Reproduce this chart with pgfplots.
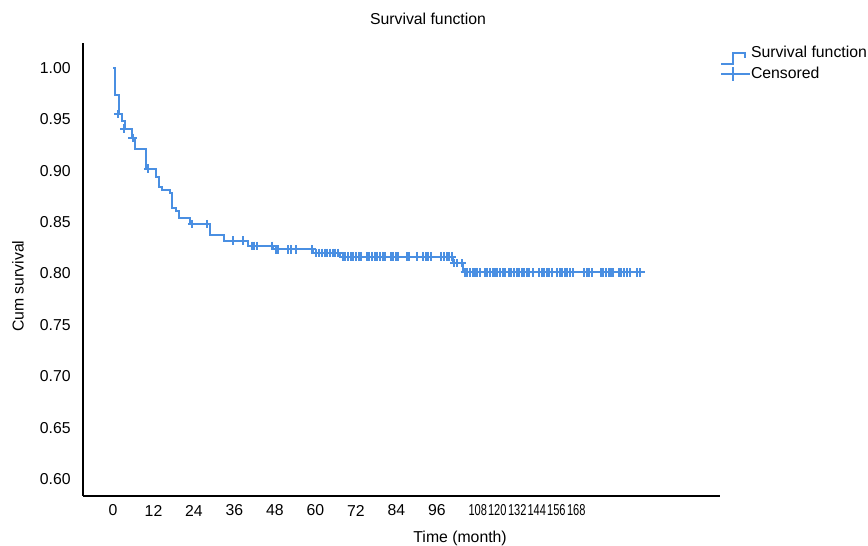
\documentclass[border=0pt]{standalone}
\usepackage{fontspec}
\setmainfont{Liberation Sans}
\usepackage{pgfplots}
\pgfplotsset{compat=1.18}
\definecolor{kmblue}{RGB}{74,143,226}
\newcommand{\cx}[1]{\scalebox{0.7}[1]{#1}}
\begin{document}
\fontsize{7.9}{9.5}\selectfont
\begin{tikzpicture}
\begin{axis}[
  name=ax, at={(0,0)}, anchor=south west,
  scale only axis, width=318.5pt, height=226.5pt,
  xmin=-8.9, xmax=179.9, ymin=0.5835, ymax=1.0243,
  axis x line*=bottom, axis y line*=left,
  axis line style={black, line width=0.7pt, -},
  tick style={draw=none}, major tick length=0pt,
  font=\fontsize{7.9}{9.5}\selectfont,
  xtick={0,12,24,36,48,60,72,84,96,108.1,113.9,119.8,125.6,131.4,137.3},
  xticklabels={0,12,24,36,48,60,72,84,96,\cx{108},\cx{120},\cx{132},\cx{144},\cx{156},\cx{168}},
  xticklabel style={anchor=center, inner sep=0pt, yshift=-7.25pt},
  ytick={0.60,0.65,0.70,0.75,0.80,0.85,0.90,0.95,1.00},
  yticklabel style={anchor=east, inner sep=0pt, xshift=-6pt,
    /pgf/number format/.cd, fixed, fixed zerofill, precision=2, assume math mode=true},
  title={Survival function},
  title style={at={(0.5416,1.0265)}, anchor=center, inner sep=0pt},
  xlabel={Time (month)},
  xlabel style={at={(0.592,-0.0927)}, anchor=center, inner sep=0pt},
  ylabel={Cum survival},
  ylabel style={at={(-0.102,0.463)}, anchor=center, inner sep=0pt},
  legend style={at={(1.0,0.9925)}, anchor=north west, draw=none, fill=none,
    inner sep=0pt, outer sep=0pt, row sep=0.6pt,
    nodes={inner sep=0pt, outer sep=0pt}, /tikz/column sep=0pt},
  legend cell align=left,
]
\addplot[kmblue, line width=1pt, const plot, mark=none,
  legend image code/.code={
    \draw[kmblue, line width=1pt] (0pt,-5.1pt) -- (5.8pt,-5.1pt) -- (5.8pt,0pt) -- (12pt,0pt) -- (12pt,-2.25pt);
    \path (14.5pt,0pt);}]
coordinates {
(0,1.0) (0.6,0.974) (1.7,0.955) (2.7,0.948) (3.6,0.941) (5.6,0.932) (6.5,0.921)
(9.7,0.902) (12.8,0.894) (13.6,0.884) (14.6,0.881) (16.9,0.878) (17.6,0.864)
(18.7,0.861) (19.6,0.854) (22.8,0.848) (28.7,0.837) (32.8,0.832) (40.1,0.827)
(47.3,0.8235) (59.3,0.820) (67.3,0.8165) (100.8,0.810) (103.8,0.801) (157.6,0.801)
};
\addlegendentry{Survival function}
\addplot[kmblue, only marks, mark=+, mark size=2.1pt, mark options={line width=1pt},
  legend image code/.code={
    \draw[kmblue, line width=1pt] (0pt,0pt) -- (14.5pt,0pt);
    \draw[kmblue, line width=1pt] (6.2pt,-3.5pt) -- (6.2pt,3.5pt);}]
coordinates {
(1.6,0.955) (3.4,0.941) (5.8,0.932) (10.4,0.902)
(23.4,0.848) (27.9,0.848)
(35.7,0.832) (38.4,0.832)
(41.1,0.827) (41.9,0.827) (42.8,0.827) (47.0,0.827)
(48.3,0.8235) (49.0,0.8235) (51.8,0.8235) (52.7,0.8235) (54.1,0.8235) (58.9,0.8235)
(60.3,0.820) (61.1,0.820) (61.9,0.820) (62.7,0.820) (63.5,0.820) (64.3,0.820) (65.1,0.820) (65.9,0.820) (66.7,0.820)
(68.1,0.8165) (68.8,0.8165) (69.6,0.8165) (70.4,0.8165) (71.2,0.8165) (72.0,0.8165) (72.8,0.8165) (73.6,0.8165)
(75.2,0.8165) (75.9,0.8165) (76.7,0.8165) (77.5,0.8165) (78.3,0.8165) (79.1,0.8165) (79.9,0.8165) (80.7,0.8165)
(82.3,0.8165) (83.1,0.8165) (83.9,0.8165) (84.6,0.8165) (87.0,0.8165) (87.8,0.8165) (90.2,0.8165)
(91.9,0.8165) (92.7,0.8165) (93.5,0.8165) (94.3,0.8165) (97.3,0.8165) (98.1,0.8165) (98.9,0.8165) (99.7,0.8165) (100.4,0.8165)
(101.2,0.810) (102.0,0.810) (103.3,0.810)
(104.3,0.801) (105.0,0.801) (105.8,0.801) (106.6,0.801) (107.3,0.801) (107.9,0.801) (108.7,0.801)
(110.2,0.801) (110.9,0.801) (111.7,0.801) (112.5,0.801) (113.2,0.801) (113.9,0.801) (114.7,0.801) (115.5,0.801) (116.1,0.801)
(117.4,0.801) (118.1,0.801) (118.8,0.801) (119.6,0.801) (120.4,0.801) (121.1,0.801) (121.8,0.801) (122.6,0.801) (123.2,0.801)
(124.4,0.801) (126.3,0.801) (127.0,0.801) (127.7,0.801) (128.5,0.801) (129.2,0.801) (130.0,0.801)
(131.6,0.801) (132.4,0.801) (133.2,0.801) (133.9,0.801) (134.6,0.801) (135.4,0.801) (136.2,0.801)
(139.6,0.801) (140.4,0.801) (141.1,0.801) (141.9,0.801)
(144.5,0.801) (145.3,0.801) (146.1,0.801) (146.9,0.801) (147.6,0.801) (148.2,0.801)
(150.0,0.801) (150.7,0.801) (151.4,0.801) (152.2,0.801) (153.2,0.801) (155.2,0.801) (156.1,0.801)
};
\addlegendentry{Censored}
\end{axis}
\pgfresetboundingbox
\path[use as bounding box] ([xshift=-41.5pt,yshift=-25pt]ax.south west) rectangle ([xshift=74pt,yshift=21.5pt]ax.north east);
\end{tikzpicture}
\end{document}
